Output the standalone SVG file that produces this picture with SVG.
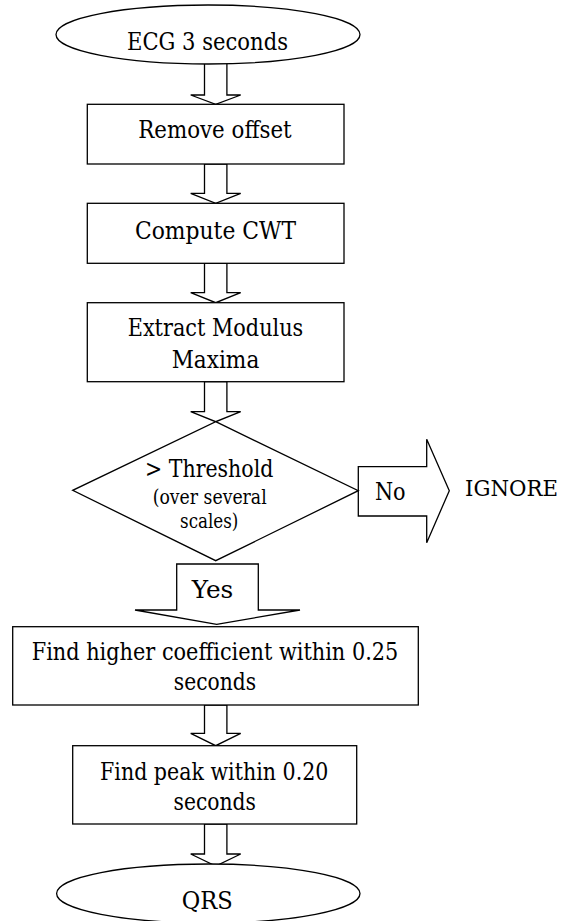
<svg xmlns="http://www.w3.org/2000/svg" width="563" height="921" viewBox="0 0 563 921">
  <style>
    .shape { fill: #ffffff; stroke: #000000; stroke-width: 1.3; stroke-linejoin: miter; }
    .conn { fill: #ffffff; stroke: #000000; stroke-width: 1.3; stroke-linejoin: miter; }
    text { font-family: "DejaVu Serif", "Liberation Serif", serif; font-size: 23.5px; fill: #000000; text-anchor: middle; }
    .small { font-size: 20px; }
    .left { text-anchor: start; }
  </style>
  <rect width="563" height="921" fill="#ffffff"/>

  <!-- Block arrows between the steps -->
  <g id="connectors">
    <polygon class="conn" points="204.5,60 226.9,60 226.9,95 240.7,95 215.7,104.3 190.7,95 204.5,95"/>
    <polygon class="conn" points="204.5,164 226.9,164 226.9,193.3 240.7,193.3 215.7,203.3 190.7,193.3 204.5,193.3"/>
    <polygon class="conn" points="204.5,263.3 226.9,263.3 226.9,292.7 240.7,292.7 215.7,302.7 190.7,292.7 204.5,292.7"/>
    <polygon class="conn" points="204.5,381.7 226.9,381.7 226.9,411.7 240.7,411.7 215.7,421.7 190.7,411.7 204.5,411.7"/>
    <polygon class="conn" points="204.5,705 226.9,705 226.9,733.3 240.7,733.3 215.7,745.7 190.7,733.3 204.5,733.3"/>
    <polygon class="conn" points="204.5,824 226.9,824 226.9,854 240.7,854 215.7,866 190.7,854 204.5,854"/>
    <!-- "No" branch -->
    <g id="arrow-no">
      <polygon class="conn" points="358.3,466.7 426.7,466.7 426.7,439.3 449.3,490.7 426.7,542.7 426.7,516 358.3,516"/>
      <text x="390.3" y="500" textLength="30.7" lengthAdjust="spacingAndGlyphs">No</text>
    </g>
    <!-- "Yes" branch -->
    <g id="arrow-yes">
      <polygon class="conn" points="176.7,564 258.3,564 258.3,610 300,610 216.7,624.3 135,610 176.7,610"/>
      <text x="212.5" y="598" textLength="41.6" lengthAdjust="spacingAndGlyphs">Yes</text>
    </g>
  </g>

  <g id="start">
    <ellipse class="shape" cx="208" cy="34.5" rx="152" ry="29.5"/>
    <text x="207.5" y="50" textLength="161" lengthAdjust="spacingAndGlyphs">ECG 3 seconds</text>
  </g>

  <g id="remove-offset">
    <rect class="shape" x="87.3" y="104.3" width="256.7" height="59.7"/>
    <text x="215" y="138.3" textLength="153.4" lengthAdjust="spacingAndGlyphs">Remove offset</text>
  </g>

  <g id="compute-cwt">
    <rect class="shape" x="87.3" y="203.3" width="256.7" height="60"/>
    <text x="215.5" y="239" textLength="161" lengthAdjust="spacingAndGlyphs">Compute CWT</text>
  </g>

  <g id="extract-maxima">
    <rect class="shape" x="87.3" y="302.7" width="256.7" height="79"/>
    <text x="215.5" y="335.7" textLength="175.6" lengthAdjust="spacingAndGlyphs">Extract Modulus</text>
    <text x="215.5" y="368" textLength="87.6" lengthAdjust="spacingAndGlyphs">Maxima</text>
  </g>

  <g id="threshold">
    <polygon class="shape" points="215.7,421.7 358.3,490.7 215.7,560.7 72.7,490.3"/>
    <text x="209.2" y="476.7" textLength="128.3" lengthAdjust="spacingAndGlyphs">&gt; Threshold</text>
    <text class="small" x="209.7" y="504" textLength="114" lengthAdjust="spacingAndGlyphs">(over several</text>
    <text class="small" x="209.2" y="528.3" textLength="58.3" lengthAdjust="spacingAndGlyphs">scales)</text>
  </g>

  <g id="ignore">
    <text class="left" x="465" y="496" font-size="21.5" style="font-size:21.5px" textLength="93" lengthAdjust="spacingAndGlyphs">IGNORE</text>
  </g>

  <g id="find-coefficient">
    <rect class="shape" x="12.7" y="626.7" width="405.6" height="78.3"/>
    <text x="215" y="660" textLength="366.6" lengthAdjust="spacingAndGlyphs">Find higher coefficient within 0.25</text>
    <text x="215" y="690" textLength="82.3" lengthAdjust="spacingAndGlyphs">seconds</text>
  </g>

  <g id="find-peak">
    <rect class="shape" x="72.7" y="745.7" width="284" height="78.3"/>
    <text x="214.2" y="780" textLength="228.3" lengthAdjust="spacingAndGlyphs">Find peak within 0.20</text>
    <text x="214.7" y="810" textLength="82.3" lengthAdjust="spacingAndGlyphs">seconds</text>
  </g>

  <g id="end">
    <ellipse class="shape" cx="208.3" cy="893.5" rx="151.7" ry="29.5"/>
    <text x="207.2" y="909" textLength="51" lengthAdjust="spacingAndGlyphs">QRS</text>
  </g>
</svg>
